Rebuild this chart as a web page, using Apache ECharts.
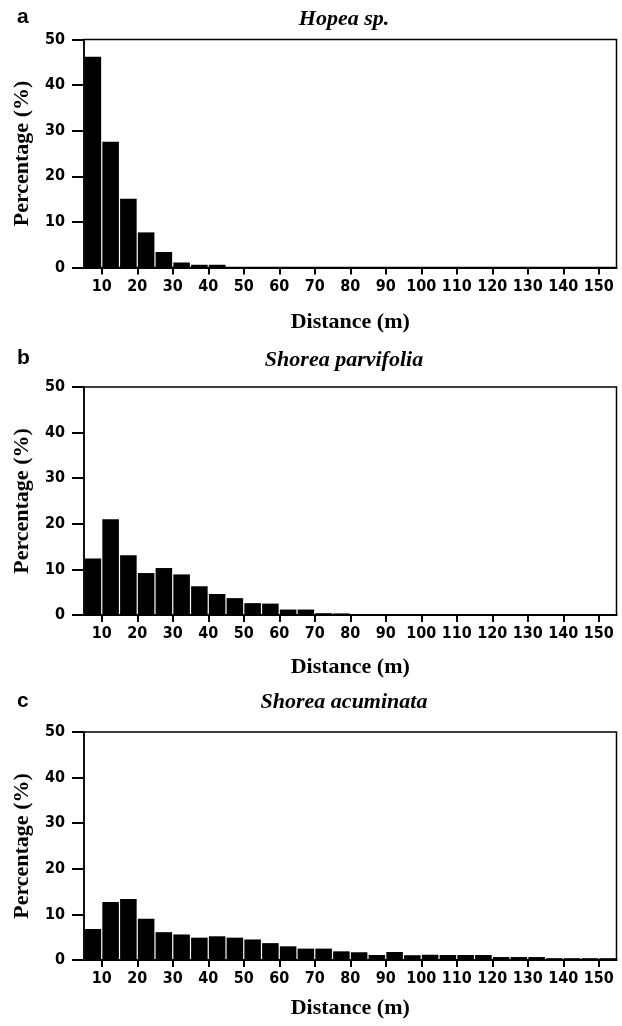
<!DOCTYPE html>
<html>
<head>
<meta charset="utf-8">
<script src="https://cdn.jsdelivr.net/npm/echarts@6/dist/echarts.min.js"></script>
<style>
html,body{margin:0;padding:0;background:#fff;}
#chart{width:622px;height:1026px;}
</style>
</head>
<body>
<div id="chart"></div>
<script>
// Bin starts (m); each bin is 5 m wide
var binStart = [5,10,15,20,25,30,35,40,45,50,55,60,65,70,75,80,85,90,95,100,105,110,115,120,125,130,135,140,145,150];
var binWidth = 5;
var xTicks = [10,20,30,40,50,60,70,80,90,100,110,120,130,140,150];
var yTicks = [0,10,20,30,40,50];

var panelLetters = ['a','b','c'];
var panelTitles = ['Hopea sp.','Shorea parvifolia','Shorea acuminata'];

var hopea = [46.2,27.6,15.1,7.7,3.4,1.1,0.6,0.6,0,0,0,0,0,0,0,0,0,0,0,0,0,0,0,0,0,0,0,0,0,0];
var parvifolia = [12.4,21.0,13.1,9.2,10.3,8.9,6.3,4.6,3.7,2.6,2.5,1.2,1.2,0.4,0.35,0.15,0.15,0.15,0.15,0.15,0.15,0.15,0.15,0.15,0.15,0.15,0.15,0.15,0,0];
var acuminata = [6.8,12.7,13.4,9.05,6.1,5.6,4.9,5.2,4.9,4.5,3.7,3.0,2.5,2.5,1.9,1.7,1.1,1.75,1.05,1.15,1.1,1.1,1.1,0.65,0.65,0.65,0.4,0.4,0.4,0.4];

var seriesValues = [hopea, parvifolia, acuminata];

var gridTops = [39.5, 387, 732];
var gridHeight = 228;
var nameGaps = [44, 41, 37];
var titleTops = [3, 344, 686];
var letterTops = [2, 343, 686];

var tickFont = "'Liberation Sans Narrow','DejaVu Sans Condensed','Arial Narrow',sans-serif";
var serifFont = "'Liberation Serif','Times New Roman',serif";

var chart = echarts.init(document.getElementById('chart'), null, {renderer:'canvas'});

var grids = [], xAxes = [], yAxes = [], series = [], titles = [];

for (var i = 0; i < 3; i++) {
  grids.push({
    left: 84, right: 5.5, top: gridTops[i], height: gridHeight,
    show: true, borderColor: '#000', borderWidth: 1.5, backgroundColor: 'transparent'
  });
  xAxes.push({
    gridIndex: i, type: 'value', min: 5, max: 155,
    axisLine: {show: true, onZero: false, lineStyle: {color: '#000', width: 2}},
    axisTick: {show: true, customValues: xTicks, length: 7, lineStyle: {color: '#000', width: 2}},
    axisLabel: {customValues: xTicks, margin: 11, fontSize: 16, fontWeight: 'bold', fontFamily: tickFont, color: '#000'},
    splitLine: {show: false},
    name: 'Distance (m)', nameLocation: 'middle', nameGap: nameGaps[i],
    nameTextStyle: {fontFamily: serifFont, fontWeight: 'bold', fontSize: 22, color: '#000'}
  });
  yAxes.push({
    gridIndex: i, type: 'value', min: 0, max: 50, interval: 10,
    axisLine: {show: true, lineStyle: {color: '#000', width: 1.5}},
    axisTick: {show: true, length: 12, lineStyle: {color: '#000', width: 2}},
    axisLabel: {margin: 19, fontSize: 16, fontWeight: 'bold', fontFamily: tickFont, color: '#000'},
    splitLine: {show: false},
    name: 'Percentage (%)', nameLocation: 'middle', nameGap: 51,
    nameTextStyle: {fontFamily: serifFont, fontWeight: 'bold', fontSize: 22, color: '#000'}
  });
  var data = [];
  for (var k = 0; k < binStart.length; k++) {
    data.push([binStart[k], binStart[k] + binWidth, seriesValues[i][k]]);
  }
  series.push({
    type: 'custom', xAxisIndex: i, yAxisIndex: i,
    encode: {x: [0, 1], y: 2},
    data: data,
    renderItem: function (params, api) {
      var v = api.value(2);
      if (!v) return null;
      var p0 = api.coord([api.value(0), v]);
      var p1 = api.coord([api.value(1), 0]);
      return {
        type: 'rect',
        shape: {x: p0[0] + 0.6, y: p0[1], width: p1[0] - p0[0] - 1.2, height: p1[1] - p0[1]},
        style: {fill: '#000'}
      };
    },
    z: 1
  });
  titles.push({
    text: panelLetters[i], left: 12, top: letterTops[i],
    textStyle: {fontFamily: "'Liberation Sans',Arial,sans-serif", fontWeight: 'bold', fontSize: 21, color: '#000'}
  });
  titles.push({
    text: panelTitles[i], left: 339, top: titleTops[i], textAlign: 'center',
    textStyle: {fontFamily: serifFont, fontWeight: 'bold', fontStyle: 'italic', fontSize: 22, color: '#000'}
  });
}

chart.setOption({
  backgroundColor: '#fff',
  animation: false,
  title: titles,
  grid: grids,
  xAxis: xAxes,
  yAxis: yAxes,
  series: series
});
</script>
</body>
</html>
